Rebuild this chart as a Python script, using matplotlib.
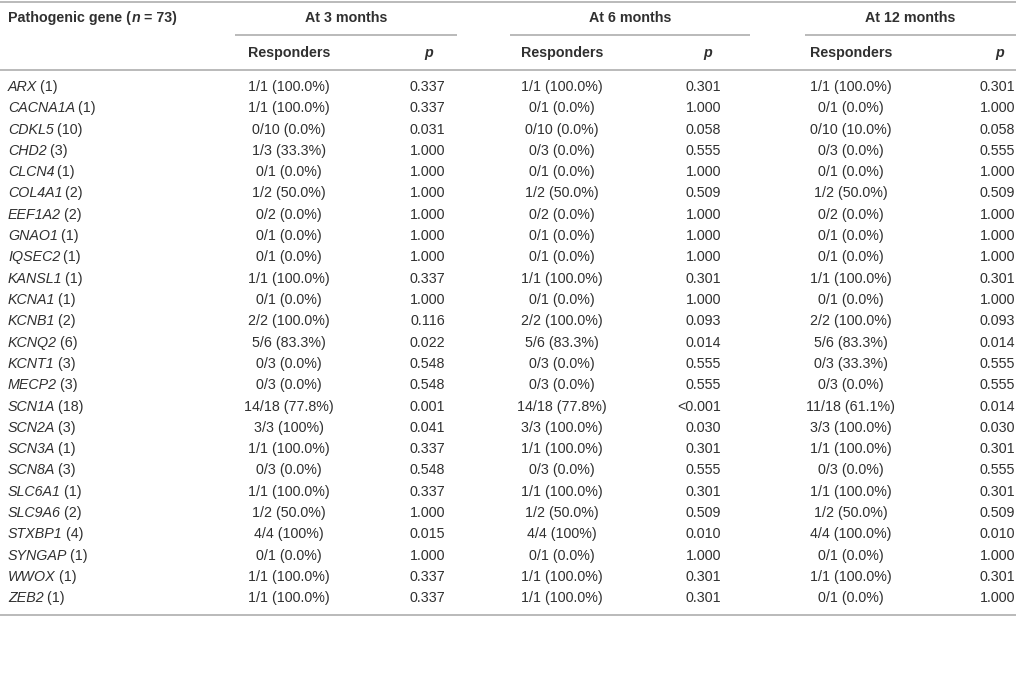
import matplotlib

matplotlib.use("Agg")
import matplotlib.pyplot as plt  # noqa: E402

genes = ["ARX", "CACNA1A", "CDKL5", "CHD2", "CLCN4", "COL4A1", "EEF1A2", "GNAO1",
         "IQSEC2", "KANSL1", "KCNA1", "KCNB1", "KCNQ2", "KCNT1", "MECP2", "SCN1A",
         "SCN2A", "SCN3A", "SCN8A", "SLC6A1", "SLC9A6", "STXBP1", "SYNGAP", "WWOX", "ZEB2"]
gene_n = [1, 1, 10, 3, 1, 2, 2, 1, 1, 1, 1, 2, 6, 3, 3, 18, 3, 1, 3, 1, 2, 4, 1, 1, 1]

resp_3m = ["1/1 (100.0%)", "1/1 (100.0%)", "0/10 (0.0%)", "1/3 (33.3%)", "0/1 (0.0%)",
           "1/2 (50.0%)", "0/2 (0.0%)", "0/1 (0.0%)", "0/1 (0.0%)", "1/1 (100.0%)",
           "0/1 (0.0%)", "2/2 (100.0%)", "5/6 (83.3%)", "0/3 (0.0%)", "0/3 (0.0%)",
           "14/18 (77.8%)", "3/3 (100%)", "1/1 (100.0%)", "0/3 (0.0%)", "1/1 (100.0%)",
           "1/2 (50.0%)", "4/4 (100%)", "0/1 (0.0%)", "1/1 (100.0%)", "1/1 (100.0%)"]
p_3m = ["0.337", "0.337", "0.031", "1.000", "1.000", "1.000", "1.000", "1.000", "1.000",
        "0.337", "1.000", "0.116", "0.022", "0.548", "0.548", "0.001", "0.041", "0.337",
        "0.548", "0.337", "1.000", "0.015", "1.000", "0.337", "0.337"]

resp_6m = ["1/1 (100.0%)", "0/1 (0.0%)", "0/10 (0.0%)", "0/3 (0.0%)", "0/1 (0.0%)",
           "1/2 (50.0%)", "0/2 (0.0%)", "0/1 (0.0%)", "0/1 (0.0%)", "1/1 (100.0%)",
           "0/1 (0.0%)", "2/2 (100.0%)", "5/6 (83.3%)", "0/3 (0.0%)", "0/3 (0.0%)",
           "14/18 (77.8%)", "3/3 (100.0%)", "1/1 (100.0%)", "0/3 (0.0%)", "1/1 (100.0%)",
           "1/2 (50.0%)", "4/4 (100%)", "0/1 (0.0%)", "1/1 (100.0%)", "1/1 (100.0%)"]
p_6m = ["0.301", "1.000", "0.058", "0.555", "1.000", "0.509", "1.000", "1.000", "1.000",
        "0.301", "1.000", "0.093", "0.014", "0.555", "0.555", "<0.001", "0.030", "0.301",
        "0.555", "0.301", "0.509", "0.010", "1.000", "0.301", "0.301"]

resp_12m = ["1/1 (100.0%)", "0/1 (0.0%)", "0/10 (10.0%)", "0/3 (0.0%)", "0/1 (0.0%)",
            "1/2 (50.0%)", "0/2 (0.0%)", "0/1 (0.0%)", "0/1 (0.0%)", "1/1 (100.0%)",
            "0/1 (0.0%)", "2/2 (100.0%)", "5/6 (83.3%)", "0/3 (33.3%)", "0/3 (0.0%)",
            "11/18 (61.1%)", "3/3 (100.0%)", "1/1 (100.0%)", "0/3 (0.0%)", "1/1 (100.0%)",
            "1/2 (50.0%)", "4/4 (100.0%)", "0/1 (0.0%)", "1/1 (100.0%)", "0/1 (0.0%)"]
p_12m = ["0.301", "1.000", "0.058", "0.555", "1.000", "0.509", "1.000", "1.000", "1.000",
         "0.301", "1.000", "0.093", "0.014", "0.555", "0.555", "0.014", "0.030", "0.301",
         "0.555", "0.301", "0.509", "0.010", "1.000", "0.301", "1.000"]

group_titles = ["At 3 months", "At 6 months", "At 12 months"]

# layout (pixel units, y downwards)
W, H = 1016, 676
FS = 10.3
TXT = "#303030"
RULE = "#b4b4b4"
BASE = 5  # baseline sits this far below the row center
groups = [
    # title x, underline span, responders center, p right edge, p header x
    dict(tx=346, span=(235, 457), rx=289, pr=445, px=429, resp=resp_3m, p=p_3m),
    dict(tx=630, span=(510, 750), rx=562, pr=721, px=708, resp=resp_6m, p=p_6m),
    dict(tx=910, span=(805, 1016), rx=851, pr=1015, px=1000, resp=resp_12m, p=p_12m),
]
y_top, y_h1, y_sub, y_h2, y_mid = 2, 17, 35, 52, 70
y_row0, row_step = 86, 21.3
y_bottom = 615

plt.rcParams["font.family"] = ["Liberation Sans", "DejaVu Sans"]

fig = plt.figure(figsize=(W / 100, H / 100), dpi=100)
ax = fig.add_axes([0, 0, 1, 1])
ax.set_xlim(0, W)
ax.set_ylim(H, 0)
ax.axis("off")


def put(x, y, s, ha="center", **style):
    return ax.text(x, y + BASE, s, ha=ha, va="baseline", fontsize=FS, color=TXT, **style)


def chain(x, y, parts):
    """Draw consecutive text pieces (text, style, gap in pt) on one line."""
    prev = put(x, y, parts[0][0], ha="left", **parts[0][1])
    for s, style, gap in parts[1:]:
        prev = ax.annotate(s, xy=(1, 0), xycoords=prev, xytext=(gap, 0),
                           textcoords="offset points", ha="left", va="bottom",
                           fontsize=FS, color=TXT, **style)
    return prev


# rules
for yy in (y_top, y_mid, y_bottom):
    ax.plot([0, W], [yy, yy], color=RULE, lw=1.3, solid_capstyle="butt")
for g in groups:
    ax.plot(list(g["span"]), [y_sub, y_sub], color=RULE, lw=1.3, solid_capstyle="butt")

# headers
bold = dict(fontweight="bold")
chain(8, y_h1, [("Pathogenic gene (", bold),
                ("n", dict(fontweight="bold", fontstyle="italic"), 0.3),
                (" = 73)", bold, -0.3)])
for g, title in zip(groups, group_titles):
    put(g["tx"], y_h1, title, fontweight="bold")
    put(g["rx"], y_h2, "Responders", fontweight="bold")
    put(g["px"], y_h2, "p", fontweight="bold", fontstyle="italic")

# body
for i, (gene, n) in enumerate(zip(genes, gene_n)):
    y = y_row0 + round(i * row_step)
    chain(8, y, [(gene, dict(fontstyle="italic")), (f" ({n})", dict(), -0.8)])
    for g in groups:
        put(g["rx"], y, g["resp"][i])
        put(g["pr"], y, g["p"][i], ha="right")

fig.savefig("out.png", dpi=100, facecolor="white")
plt.close(fig)
